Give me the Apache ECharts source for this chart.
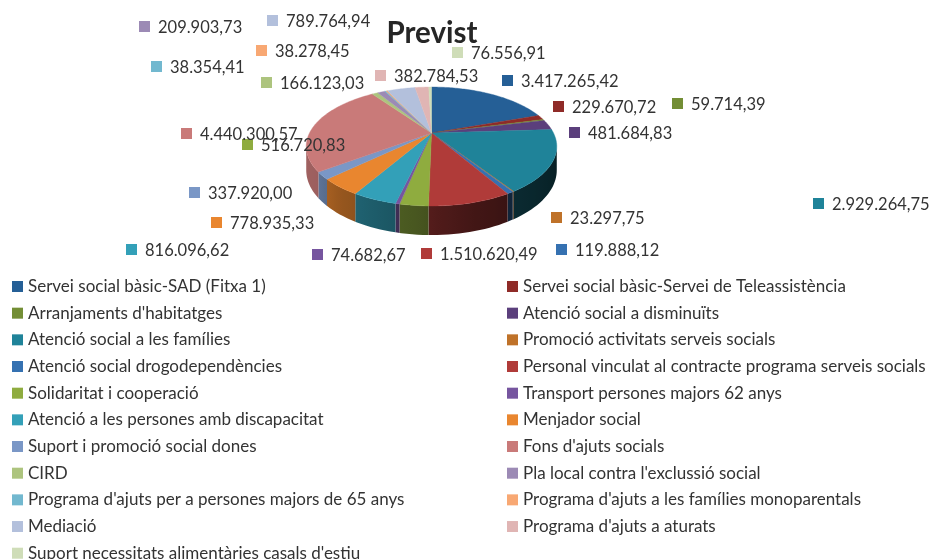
<!DOCTYPE html>
<html>
<head>
<meta charset="utf-8">
<title>Previst</title>
<script src="https://cdn.jsdelivr.net/npm/echarts@6/dist/echarts.min.js"></script>
<style>
html, body { margin: 0; padding: 0; background: #fff; }
#chart { width: 930px; height: 559px; }
</style>
</head>
<body>
<div id="chart"></div>
<script>
var categories = [
	"Servei social bàsic-SAD (Fitxa 1)", "Servei social bàsic-Servei de Teleassistència",
	"Arranjaments d'habitatges", "Atenció social a disminuïts",
	"Atenció social a les famílies", "Promoció activitats serveis socials",
	"Atenció social drogodependències", "Personal vinculat al contracte programa serveis socials",
	"Solidaritat i cooperació", "Transport persones majors 62 anys",
	"Atenció a les persones amb discapacitat", "Menjador social",
	"Suport i promoció social dones", "Fons d'ajuts socials",
	"CIRD", "Pla local contra l'exclussió social",
	"Programa d'ajuts per a persones majors de 65 anys", "Programa d'ajuts a les famílies monoparentals",
	"Mediació", "Programa d'ajuts a aturats",
	"Suport necessitats alimentàries casals d'estiu"
];
var values = [
	3417265.42, 229670.72, 59714.39, 481684.83, 2929264.75, 23297.75, 119888.12,
	1510620.49, 516720.83, 74682.67, 816096.62, 778935.33, 337920.00, 4440300.57,
	166123.03, 209903.73, 38354.41, 38278.45, 789764.94, 382784.53, 76556.91
];
var colors = [
	"#255f96", "#8f2b28", "#738e35", "#5b3f7c", "#1f8399", "#bf7229", "#3571b1",
	"#b03b39", "#8fac3f", "#76559f", "#33a0b8", "#e9862f", "#7a97c6", "#c97a79",
	"#adc47e", "#9c8ab5", "#72b8cf", "#f8a873", "#b3c0dc", "#e0b5b4", "#cfddb8"
];
// 手动摆放的数值标签：方块左上角
var labelX = [502, 553, 672, 569, 813, 551, 556, 421, 242, 312, 126, 211, 189, 181, 261, 139, 151, 256, 267, 375, 452];
var labelY = [75, 101, 98, 127, 198, 212, 244, 248, 139, 249, 244, 217, 187, 128, 77, 21, 61, 45, 15, 70, 47];

var textFont = "Lato";
var textColor = "#333333";

// 饼图透视参数
var pie = { cx: 431.5, cy: 133, rx: 122, ry: 56.4, k: 0.227, depth: 22.5 };
var total = values.reduce(function(a, b) { return a + b; }, 0);

function project(deg, depth) {
	var a = deg * Math.PI / 180;
	var u = Math.sin(a), v = -Math.cos(a);
	var s = 1 / (1 - pie.k * v);
	return [pie.cx + pie.rx * u * s, pie.cy + pie.ry * v * s + depth * s];
}

// 侧面明暗：右边深，左边浅
var shadeStops = [[100, 0.22], [147, 0.32], [165, 0.38], [185, 0.5], [218, 0.65], [235, 0.78], [260, 0.8]];
function shadeAt(deg) {
	for (var i = 1; i < shadeStops.length; i++) {
		if (deg <= shadeStops[i][0]) {
			var p = shadeStops[i - 1], q = shadeStops[i];
			return p[1] + (q[1] - p[1]) * Math.max(0, deg - p[0]) / (q[0] - p[0]);
		}
	}
	return 0.8;
}
function darken(hex, f) {
	var n = parseInt(hex.slice(1), 16);
	return "rgb(" + Math.round((n >> 16) * f) + "," + Math.round(((n >> 8) & 255) * f) + "," + Math.round((n & 255) * f) + ")";
}
function formatValue(val) {
	var parts = val.toFixed(2).split(".");
	return parts[0].replace(/\B(?=(\d{3})+$)/g, ".") + "," + parts[1];
}

function makeRenderItem(index) {
	return function(params, api) {
		var before = 0;
		for (var i = 0; i < index; i++) before += values[i];
		var start = before / total * 360;
		var end = (before + api.value(0)) / total * 360;
		var children = [];

		// 顶面
		var top = [[pie.cx, pie.cy]];
		for (var d = start; d < end; d += 1) top.push(project(d, 0));
		top.push(project(end, 0));
		children.push({
			type: "polygon", z2: 2,
			shape: { points: top },
			style: { fill: colors[index], stroke: colors[index], lineWidth: 0.4 }
		});

		// 侧面，只画朝前的部分，用横向渐变
		var from = Math.max(start, 103), to = Math.min(end, 257);
		if (to > from) {
			var upper = [], lower = [], stops = [];
			var x0 = project(from, 0)[0], x1 = project(to, 0)[0];
			for (var w = from; ; w += 2) {
				var cur = Math.min(w, to);
				upper.push(project(cur, 0));
				lower.unshift(project(cur, pie.depth));
				stops.push({
					offset: x0 === x1 ? 0 : (x0 - project(cur, 0)[0]) / (x0 - x1),
					color: darken(colors[index], shadeAt(cur))
				});
				if (cur >= to) break;
			}
			// 渐变从右到左，和角度增加方向一致
			children.push({
				type: "polygon", z2: 1,
				shape: { points: upper.concat(lower) },
				style: { fill: new echarts.graphic.LinearGradient(1, 0, 0, 0, stops) }
			});
		}

		// 数值标签
		children.push({
			type: "rect", z2: 5,
			shape: { x: labelX[index], y: labelY[index], width: 11, height: 11 },
			style: { fill: colors[index] }
		});
		children.push({
			type: "text", z2: 5,
			x: labelX[index] + 19, y: labelY[index] + 7,
			style: {
				text: formatValue(api.value(0)), fill: textColor,
				font: "16.5px " + textFont, textAlign: "left", textVerticalAlign: "middle"
			}
		});
		return { type: "group", children: children };
	};
}

var seriesList = [];
for (var i = 0; i < values.length; i++) {
	seriesList.push({
		type: "custom",
		name: categories[i],
		coordinateSystem: "none",
		silent: true,
		itemStyle: { color: colors[i] },
		data: [[values[i]]],
		renderItem: makeRenderItem(i)
	});
}

function legendFor(offset, left) {
	return {
		orient: "vertical",
		left: left,
		top: 272,
		height: 320,
		itemWidth: 11,
		itemHeight: 11,
		itemGap: 7.67,
		icon: "rect",
		selectedMode: false,
		textStyle: { fontFamily: textFont, fontSize: 17, color: textColor, lineHeight: 19 },
		data: categories.filter(function(c, idx) { return idx % 2 === offset; })
	};
}

var myChart = echarts.init(document.getElementById("chart"));
myChart.setOption({
	animation: false,
	backgroundColor: "#ffffff",
	title: {
		text: "Previst",
		left: 427,
		top: 13,
		textAlign: "center",
		textStyle: { fontFamily: textFont, fontSize: 29.5, fontWeight: "bold", color: "#262626" }
	},
	legend: [legendFor(0, 7), legendFor(1, 502)],
	series: seriesList
});
</script>
</body>
</html>
